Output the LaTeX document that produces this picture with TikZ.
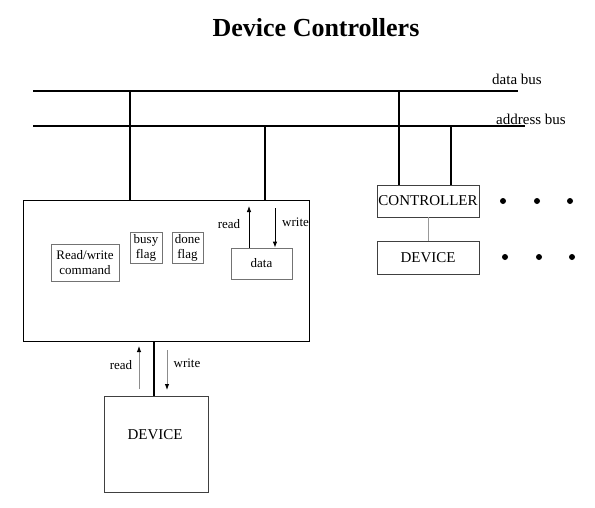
\documentclass[tikz,border=0pt]{standalone}
\usepackage{fontspec}
\setmainfont{Liberation Serif}
\usetikzlibrary{arrows.meta}
\begin{document}
\begin{tikzpicture}[x=1pt,y=-1pt,
  bus/.style={line width=1.8pt},
  link/.style={line width=1.5pt},
  box/.style={draw=black!75,line width=0.8pt,inner sep=0pt,anchor=center},
  inbox/.style={draw=black!55,line width=0.8pt,inner sep=0pt,anchor=center,align=center,font=\fontsize{13}{15}\selectfont},
  lbl/.style={inner sep=0pt,font=\fontsize{13}{15}\selectfont},
  buslbl/.style={inner sep=0pt,anchor=west,font=\fontsize{15}{15}\selectfont},
  capbox/.style={box,font=\fontsize{15}{15}\selectfont},
  arr/.style={-{Latex[length=6pt,width=4.5pt]},line width=0.8pt},
  garr/.style={-{Latex[length=6pt,width=4.5pt,color=black]},line width=0.9pt,draw=black!45},
  dot/.style={circle,fill=black,inner sep=0pt,minimum size=6pt}
]
\useasboundingbox (0,0) rectangle (595,507);
\fill[white] (0,0) rectangle (595,507);

\node[font=\bfseries\fontsize{26}{26}\selectfont,inner sep=0pt] (title) at (316,28) {Device Controllers};

% buses
\coordinate (dbL) at (33,91);
\coordinate (dbR) at (518,91);
\coordinate (abL) at (33,126);
\coordinate (abR) at (525,126);
\draw[bus] (dbL) -- (dbR);
\draw[bus] (abL) -- (abR);
\node[buslbl] (dblbl) at (492,79) {data bus};
\node[buslbl] (ablbl) at (496,119) {address bus};

% main controller box
\node[box,draw=black,minimum width=286pt,minimum height=141pt] (main) at (166,270.5) {};
\node[inbox,minimum width=68pt,minimum height=37pt] (rw) at (85,262.5) {Read/write\\command};
\node[inbox,minimum width=32pt,minimum height=31pt] (busy) at (146,247.5) {busy\\flag};
\node[inbox,minimum width=31pt,minimum height=31pt] (done) at (187.5,247.5) {done\\flag};
\node[inbox,minimum width=61pt,minimum height=31pt] (data) at (261.5,263.5) {data};

\coordinate (db1) at (130,91);
\coordinate (ab1) at (265,126);
\draw[link] (db1) -- (db1 |- main.north);
\draw[link] (ab1) -- (ab1 |- main.north);

% read/write to data
\coordinate (rtop) at (249,206);
\coordinate (wtop) at (275,208);
\draw[arr] (data.north -| rtop) -- (rtop);
\draw[arr] (wtop) -- (data.north -| wtop);
\node[lbl] (rlbl) at (229,224) {read};
\node[lbl,anchor=west] (wlbl) at (282,222) {write};

% bottom device
\node[capbox,minimum width=104pt,minimum height=96pt] (dev1) at (156,444) {};
\node[inner sep=0pt,font=\fontsize{15}{15}\selectfont] (dev1txt) at (155,435) {DEVICE};
\draw[link] (main.south -| 154,0) -- (dev1.north -| 154,0);
\coordinate (r2b) at (139,389);
\coordinate (r2t) at (139,346);
\coordinate (w2t) at (167,350);
\coordinate (w2b) at (167,390);
\draw[garr] (r2b) -- (r2t);
\draw[garr] (w2t) -- (w2b);
\node[lbl] (r2lbl) at (121,365) {read};
\node[lbl] (w2lbl) at (187,363) {write};

% second controller
\node[capbox,minimum width=102pt,minimum height=32pt] (ctrl) at (428,201) {CONTROLLER};
\node[capbox,minimum width=102pt,minimum height=33pt] (dev2) at (428,257.5) {DEVICE};
\coordinate (db2) at (399,91);
\coordinate (ab2) at (451,126);
\draw[link] (db2) -- (db2 |- ctrl.north);
\draw[link] (ab2) -- (ab2 |- ctrl.north);
\draw[draw=black!40,line width=1pt] (ctrl.south) -- (dev2.north);

% dots
\node[dot] (d1) at (503,201) {};
\node[dot] (d2) at (537,201) {};
\node[dot] (d3) at (570,201) {};
\node[dot] (d4) at (505,257) {};
\node[dot] (d5) at (539,257) {};
\node[dot] (d6) at (572,257) {};
\end{tikzpicture}
\end{document}
